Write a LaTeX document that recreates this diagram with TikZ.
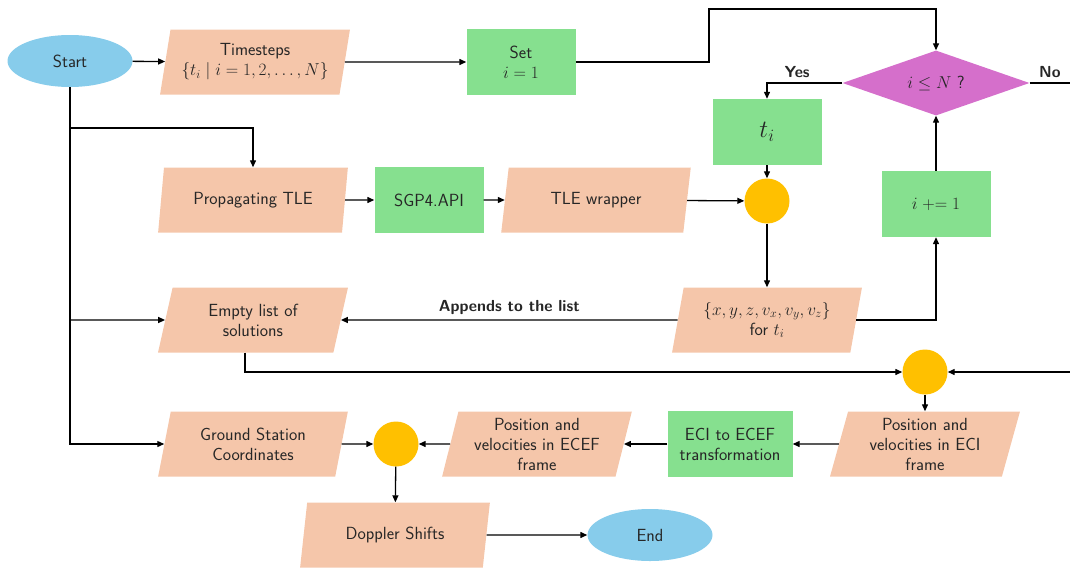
\documentclass[tikz,border=0pt]{standalone}
\usetikzlibrary{shapes.geometric,arrows.meta}
\definecolor{peach}{HTML}{F5C6AA}
\definecolor{grn}{HTML}{86E08F}
\definecolor{sky}{HTML}{87CCEB}
\definecolor{mag}{HTML}{D56FCB}
\definecolor{amber}{HTML}{FFC000}
\begin{document}
\begin{tikzpicture}[x=1pt,y=-1pt,
  font=\sffamily\fontsize{17.6}{20}\selectfont,
  every node/.style={align=center,inner sep=0pt,text=black!85},
  para/.style={trapezium,trapezium left angle=76,trapezium right angle=104,
    trapezium stretches=true,fill=peach,minimum width=190pt,minimum height=65pt},
  gbox/.style={rectangle,fill=grn,minimum width=109pt,minimum height=66pt},
  oval/.style={ellipse,fill=sky,minimum width=125pt,minimum height=52pt},
  dot/.style={circle,fill=amber,minimum size=45pt},
  arr/.style={line width=1.3pt,-{Triangle[length=7pt,width=6pt]}},
  ln/.style={line width=1.3pt},
  lbl/.style={font=\sffamily\bfseries\fontsize{16}{18}\selectfont}]
\useasboundingbox (0,0) rectangle (1070,570);
% nodes
\node[oval] (start) at (70,61) {Start};
\node[para] (ts) at (255,62) {Timesteps\\ $\{t_i \mid i=1,2,\ldots,N\}$};
\node[gbox] (set) at (521,62) {Set\\ $i=1$};
\node[diamond,aspect=2.9,fill=mag,minimum width=187pt,minimum height=65pt] (dia) at (936,83) {$i\le N$ ?};
\node[gbox] (ti) at (767,132) {\fontsize{24}{26}\selectfont $t_i$};
\node[gbox] (inc) at (936,204) {$i \mathrel{+}= 1$};
\node[para] (prop) at (253,200) {Propagating TLE};
\node[gbox] (sgp) at (429,200) {SGP4.API};
\node[para] (wrap) at (596,200) {TLE wrapper};
\node[dot] (c1) at (767,201) {};
\node[para] (empty) at (253,320) {Empty list of\\ solutions};
\node[para] (xyz) at (767,320) {$\{x,y,z,v_x,v_y,v_z\}$\\ for $t_i$};
\node[dot] (c2) at (925,372) {};
\node[para] (eci) at (925,444) {Position and\\ velocities in ECI\\ frame};
\node[gbox,minimum width=125pt] (tr) at (730,444) {ECI to ECEF\\ transformation};
\node[para] (ecef) at (537,444) {Position and\\ velocities in ECEF\\ frame};
\node[dot] (c3) at (396,444) {};
\node[para] (gs) at (253,444) {Ground Station\\ Coordinates};
\node[para] (dop) at (395,535) {Doppler Shifts};
\node[oval] (end) at (650,535) {End};
% helper coordinates
\coordinate (k1) at (709,9);
\coordinate (b1) at (70,128);
\coordinate (b2) at (70,320);
\coordinate (noend) at (1070,83);
\coordinate (rin) at (1070,372);
% connectors
\draw[arr] (start) -- (ts);
\draw[arr] (ts) -- (set);
\draw[arr] (set.east) -| (k1) -| (dia.north);
\draw[arr] (dia.west) -| (ti.north) node[lbl,pos=0.3,above=5pt]{Yes};
\draw[ln] (dia.east) -- (noend) node[lbl,midway,above=5pt]{No};
\draw[arr] (ti) -- (c1);
\draw[arr] (start.south) |- (gs.west);
\draw[arr] (b1) -| (prop.north);
\draw[arr] (b2) -- (empty.west);
\draw[arr] (prop) -- (sgp);
\draw[arr] (sgp) -- (wrap);
\draw[arr] (wrap) -- (c1);
\draw[arr] (c1) -- (xyz);
\draw[arr] (xyz) -- (empty) node[lbl,midway,above=5pt]{Appends to the list};
\draw[arr] (xyz.east) -| (inc.south);
\draw[arr] (inc) -- (dia);
\draw[arr] ([xshift=-8pt]empty.south) |- (c2.west);
\draw[arr] (rin) -- (c2.east);
\draw[arr] (c2) -- (eci);
\draw[arr] (eci) -- (tr);
\draw[arr] (tr) -- (ecef);
\draw[arr] (ecef) -- (c3);
\draw[arr] (gs) -- (c3);
\draw[arr] (c3) -- (dop);
\draw[arr] (dop) -- (end);
\end{tikzpicture}
\end{document}
